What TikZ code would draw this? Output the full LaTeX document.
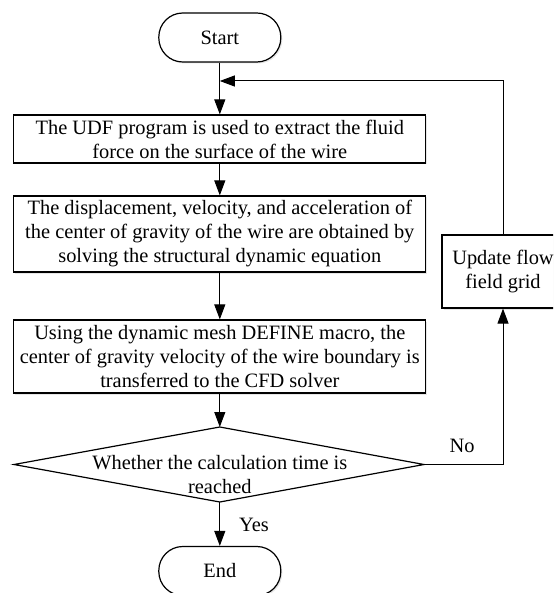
\documentclass[tikz,border=0pt]{standalone}
\usepackage{fontspec}
\setmainfont{Liberation Serif}
\usetikzlibrary{arrows.meta,shadows}
\begin{document}
\begin{tikzpicture}[x=1pt,y=-1pt,
  font=\fontsize{20.4}{24}\selectfont,
  boxstyle/.style={draw, line width=1.2pt, fill=white, align=center, inner sep=0pt,
    drop shadow={shadow xshift=1.5pt,shadow yshift=-1.5pt,opacity=0.2}},
  termstyle/.style={boxstyle, rounded corners=24pt, minimum width=122pt, minimum height=49pt},
  procstyle/.style={boxstyle, minimum width=412pt},
  arr/.style={line width=1pt, -{Triangle[length=15pt,width=11pt]}},
  lbl/.style={inner sep=0pt}
]
\useasboundingbox (0,0) rectangle (553,593);
\begin{scope}
\clip (0,0) rectangle (553,593);
\node[termstyle] (start) at (219.8,37.5) {Start};
\node[procstyle, minimum height=48pt] (b1) at (219.8,139)
  {The UDF program is used to extract the fluid\\force on the surface of the wire};
\node[procstyle, minimum height=76pt] (b2) at (219.8,234)
  {The displacement, velocity, and acceleration of\\the center of gravity of the wire are obtained by\\solving the structural dynamic equation};
\node[procstyle, minimum height=73pt] (b3) at (219.8,356.5)
  {Using the dynamic mesh DEFINE macro, the\\center of gravity velocity of the wire boundary is\\transferred to the CFD solver};
\coordinate (dt) at (219.8,427);
\coordinate (db) at (219.8,502);
\coordinate (dl) at (14,464.5);
\coordinate (dr) at (424,464.5);
\draw[line width=1.2pt, line join=miter] (dl) -- (dt) -- (dr) -- (db) -- cycle;
\node[lbl, align=center] (dtext) at (219.8,475) {Whether the calculation time is\\reached};
\node[boxstyle, minimum width=122pt, minimum height=73pt] (upd) at (503,271.5)
  {Update flow\\field grid};
\node[termstyle] (end) at (219.8,571) {End};
\coordinate (j) at (219.8,81);
\draw[arr] (start.south) -- (b1.north);
\draw[arr] (b1.south) -- (b2.north);
\draw[arr] (b2.south) -- (b3.north);
\draw[arr] (b3.south) -- (dt);
\draw[arr] (db) -- (end.north);
\draw[arr] (dr) -| (upd.south);
\draw[arr] (upd.north) |- (j);
\node[lbl] (no) at (462,446) {No};
\node[lbl] (yes) at (254,525) {Yes};
\end{scope}
\end{tikzpicture}
\end{document}
